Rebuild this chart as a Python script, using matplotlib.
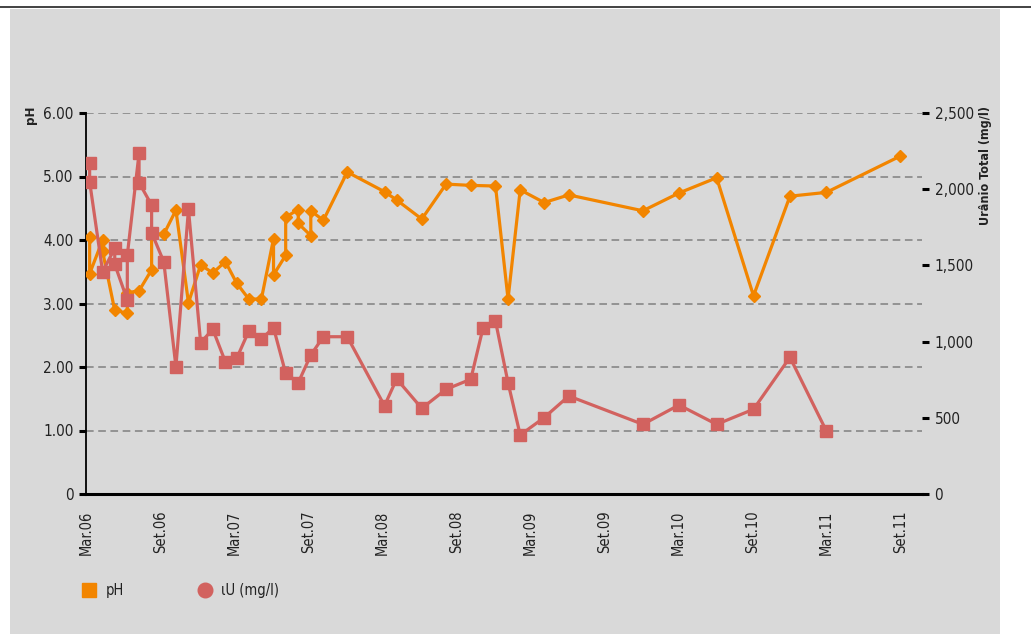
import matplotlib
matplotlib.use("Agg")
import matplotlib.pyplot as plt
import pandas as pd
from matplotlib.patches import Rectangle
from matplotlib.lines import Line2D
from matplotlib.ticker import FuncFormatter

plt.rcParams['font.family'] = ['DejaVu Sans']
plt.rcParams['font.stretch'] = 'condensed'

# pH readings (left axis)
ph_dates = ['2006-03-09', '2006-03-09', '2006-04-10', '2006-04-10', '2006-05-10',
            '2006-06-10', '2006-06-10', '2006-07-09', '2006-08-09', '2006-08-09',
            '2006-09-08', '2006-10-08', '2006-11-08', '2006-12-08', '2007-01-07',
            '2007-02-07', '2007-03-07', '2007-04-06', '2007-05-07', '2007-06-06',
            '2007-06-06', '2007-07-06', '2007-07-06', '2007-08-06', '2007-08-06',
            '2007-09-06', '2007-09-06', '2007-10-07', '2007-12-05', '2008-03-06',
            '2008-04-05', '2008-06-06', '2008-08-05', '2008-10-05', '2008-12-05',
            '2009-01-05', '2009-02-04', '2009-04-04', '2009-06-04', '2009-12-04',
            '2010-03-03', '2010-06-04', '2010-09-03', '2010-12-02', '2011-03-02',
            '2011-08-31']
ph_values = [4.05, 3.47, 4.00, 3.82, 2.89,
             2.85, 3.17, 3.20, 3.53, 4.10,
             4.09, 4.47, 3.01, 3.61, 3.48,
             3.66, 3.32, 3.07, 3.07, 4.02,
             3.45, 3.76, 4.36, 4.48, 4.26,
             4.07, 4.46, 4.31, 5.07, 4.76,
             4.63, 4.33, 4.88, 4.86, 4.85,
             3.07, 4.79, 4.59, 4.71, 4.46,
             4.74, 4.98, 3.12, 4.69, 4.75,
             5.32]

# total uranium, mg/l (right axis)
u_dates = ['2006-03-09', '2006-03-09', '2006-04-10', '2006-05-10', '2006-05-10',
           '2006-06-10', '2006-06-10', '2006-07-09', '2006-07-09', '2006-08-09',
           '2006-08-09', '2006-09-08', '2006-10-08', '2006-11-08', '2006-12-08',
           '2007-01-07', '2007-02-07', '2007-03-07', '2007-04-06', '2007-05-07',
           '2007-06-06', '2007-07-06', '2007-08-06', '2007-09-06', '2007-10-07',
           '2007-12-05', '2008-03-06', '2008-04-05', '2008-06-06', '2008-08-05',
           '2008-10-05', '2008-11-04', '2008-12-05', '2009-01-05', '2009-02-04',
           '2009-04-04', '2009-06-04', '2009-12-04', '2010-03-03', '2010-06-04',
           '2010-09-03', '2010-12-02', '2011-03-02']
u_values = [2174, 2049, 1459, 1612, 1507,
            1273, 1568, 2236, 2043, 1896,
            1715, 1524, 835, 1868, 993,
            1081, 868, 890, 1070, 1017,
            1091, 792, 730, 912, 1032,
            1032, 579, 755, 562, 687,
            753, 1087, 1135, 730, 387,
            501, 643, 457, 584, 457,
            556, 897, 413]

tick_labels = ['Mar.06', 'Set.06', 'Mar.07', 'Set.07', 'Mar.08', 'Set.08',
               'Mar.09', 'Set.09', 'Mar.10', 'Set.10', 'Mar.11', 'Set.11']
ph_ticks = [0, 1, 2, 3, 4, 5, 6]
u_ticks = [0, 500, 1000, 1500, 2000, 2500]

orange = '#f28500'
red = '#d2625f'
panel = '#d9d9d9'
ink = '#222222'

W, H = 1031, 634
fig = plt.figure(figsize=(W / 100, H / 100), dpi=100)
fig.patch.set_facecolor('white')
fig.patches.append(Rectangle((10 / W, 0), 990 / W, 1 - 9 / H, transform=fig.transFigure,
                             facecolor=panel, edgecolor='none', zorder=-10))
fig.add_artist(Line2D([0, 1], [1 - 7 / H, 1 - 7 / H], transform=fig.transFigure,
                      color=ink, lw=1.2))

ax = fig.add_axes([86 / W, 1 - 494 / H, 836 / W, 381 / H])
ax.set_facecolor('none')
ax2 = ax.twinx()
ax2.set_facecolor('none')

ph_x = pd.to_datetime(ph_dates)
u_x = pd.to_datetime(u_dates)

ax.plot(ph_x, ph_values, color=orange, lw=2.3, marker='D', markersize=6,
        markeredgecolor=orange, zorder=3)
ax2.plot(u_x, u_values, color=red, lw=2.3, marker='s', markersize=8,
         markeredgecolor=red, zorder=3)

ax.set_xlim(pd.Timestamp('2006-02-28'), pd.Timestamp('2011-10-24'))
ax.set_ylim(0, 6)
ax2.set_ylim(0, 2500)

ticks = pd.date_range('2006-03-01', '2011-09-01', freq='6MS')
ax.set_xticks(ticks)
ax.set_xticklabels(tick_labels, rotation=90, fontsize=10.5, color=ink)
ax.tick_params(axis='x', length=0, pad=12)

ax.set_yticks(ph_ticks)
ax.set_yticklabels(['0'] + ['%.2f' % v for v in ph_ticks[1:]], fontsize=11, color=ink)
ax.tick_params(axis='y', direction='out', length=5, width=2.2, color='black', pad=4)
ax.grid(axis='y', color='#7f7f7f', linestyle=(0, (5, 3)), lw=1.1)
ax.set_axisbelow(True)

ax2.set_yticks(u_ticks)
ax2.yaxis.set_major_formatter(FuncFormatter(lambda v, p: '{:,.0f}'.format(v)))
ax2.tick_params(axis='y', direction='out', length=5, width=2.2, color='black',
                labelsize=11, labelcolor=ink, pad=4)

for a in (ax, ax2):
    a.spines['top'].set_visible(False)
    a.spines['right'].set_visible(False)
ax2.spines['left'].set_visible(False)
ax2.spines['bottom'].set_visible(False)
ax.spines['left'].set_linewidth(1.3)
ax.spines['bottom'].set_linewidth(2.2)

fig.text(30 / W, 1 - 106 / H, 'pH', rotation=90, fontsize=9.5, fontweight='bold',
         ha='center', va='top', color=ink)
fig.text(985 / W, 1 - 106 / H, 'Urânio Total (mg/l)', rotation=90, fontsize=9,
         fontweight='bold', ha='center', va='top', color=ink)

handles = [Line2D([], [], ls='none', marker='s', markersize=10.5, color=orange),
           Line2D([], [], ls='none', marker='o', markersize=10.5, color=red)]
fig.legend(handles, ['pH', 'ιU (mg/l)'], loc='center left', ncol=2,
           bbox_to_anchor=(69 / W, 1 - 591 / H), frameon=False, fontsize=10.5,
           handlelength=1.0, handletextpad=0.65, columnspacing=5.0,
           labelcolor=ink)

fig.savefig('out.png', dpi=100)
